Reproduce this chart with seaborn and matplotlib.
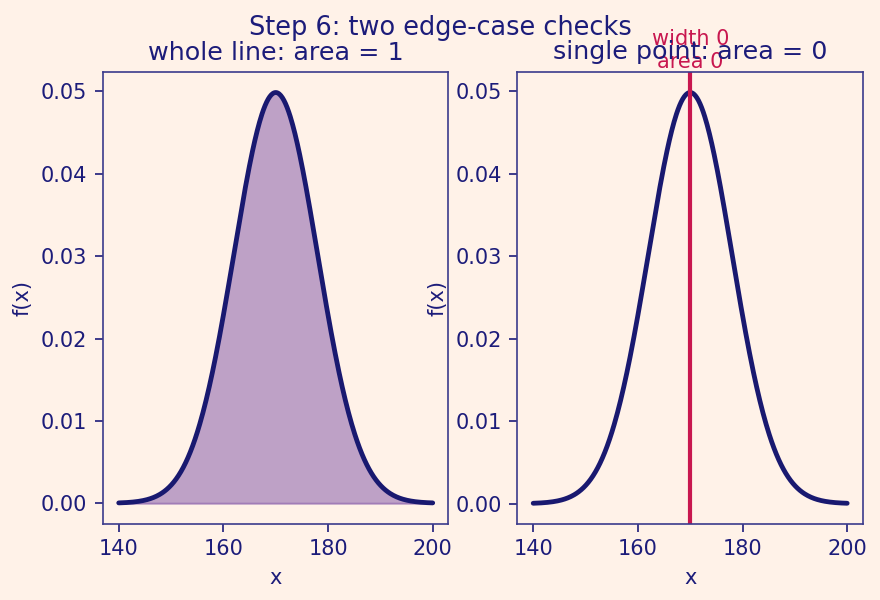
import numpy as np
import pandas as pd
import matplotlib
matplotlib.use("Agg")
import matplotlib.pyplot as plt
import seaborn as sns

# normal curve: peak ~0.05 at 170 -> sigma ~8
mu = 170
sigma = 8
x_range = [140, 200]
point_x = 170
panel_titles = ["whole line: area = 1", "single point: area = 0"]
point_label = "width 0\narea 0"

bg = "#fff2e8"
ink = "#1c1c7a"
spine = "#3b3b8c"

sns.set_theme(style="white")
plt.rcParams.update({
    "figure.facecolor": bg,
    "axes.facecolor": bg,
    "axes.edgecolor": spine,
    "axes.labelcolor": ink,
    "xtick.color": ink,
    "ytick.color": ink,
    "text.color": ink,
    "xtick.bottom": True,
    "ytick.left": True,
})
plt.rcParams["font.family"] = ["DejaVu Sans"]

xs = np.linspace(x_range[0], x_range[1], 400)
pdf = np.exp(-0.5 * ((xs - mu) / sigma) ** 2) / (sigma * np.sqrt(2 * np.pi))
df = pd.DataFrame({"x": xs, "f(x)": pdf})

fig, axes = plt.subplots(1, 2, figsize=(5.87, 4), dpi=150)

# left: whole line shaded
ax = axes[0]
ax.fill_between(df["x"], df["f(x)"], color="rebeccapurple", alpha=0.42)
sns.lineplot(data=df, x="x", y="f(x)", ax=ax, color="midnightblue", linewidth=2.3)
ax.set_title(panel_titles[0], color=ink, fontsize=12.2, pad=6)

# right: single point
ax = axes[1]
sns.lineplot(data=df, x="x", y="f(x)", ax=ax, color="midnightblue", linewidth=2.3)
ax.axvline(point_x, color="#c8174f", linewidth=2)
top = ax.get_ylim()[1]
ax.text(point_x, top, point_label, color="#c8174f", ha="center", va="bottom",
        fontsize=10)
ax.set_title(panel_titles[1], color=ink, fontsize=12.2, pad=6)

for ax in axes:
    ax.set_xticks([140, 160, 180, 200])
    ax.tick_params(length=4, width=0.8, labelsize=10)
    ax.xaxis.label.set_size(10)
    ax.yaxis.label.set_size(10)
    for s in ax.spines.values():
        s.set_linewidth(0.8)

fig.suptitle("Step 6: two edge-case checks", color=ink, fontsize=12.3, y=0.975)
fig.subplots_adjust(left=0.117, right=0.98, top=0.88, bottom=0.127, wspace=0.2)
fig.savefig("out.png", facecolor=bg)
